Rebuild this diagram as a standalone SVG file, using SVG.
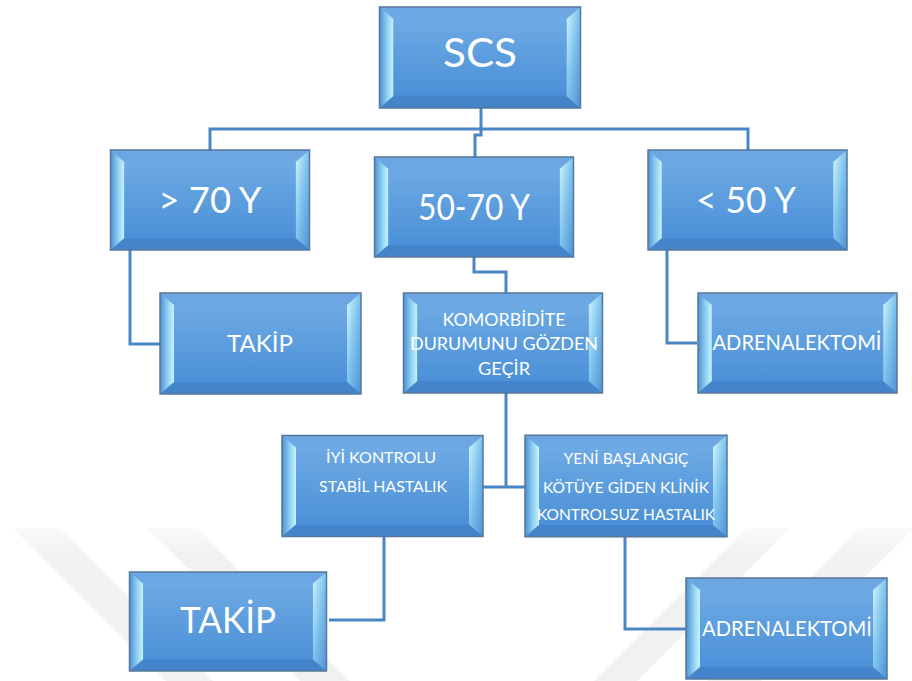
<svg xmlns="http://www.w3.org/2000/svg" xmlns:xlink="http://www.w3.org/1999/xlink" width="912" height="681" viewBox="0 0 912 681">
<style>
.t{font-family:Lato,"Open Sans","Liberation Sans",sans-serif;fill:#ffffff;text-anchor:middle}
.c{fill:none;stroke:#4a86c5;stroke-width:3}
</style>
<defs>
<linearGradient id="face" x1="0" y1="0" x2="0" y2="1">
<stop offset="0" stop-color="#6eaae4"/>
<stop offset="1" stop-color="#4b90d7"/>
</linearGradient>
<linearGradient id="lb" x1="0" y1="0" x2="1" y2="0">
<stop offset="0" stop-color="#4f8fd2"/>
<stop offset="0.55" stop-color="#8fd0f2"/>
<stop offset="1" stop-color="#c8f4ff"/>
</linearGradient>
<linearGradient id="rb" x1="0" y1="0" x2="1" y2="1">
<stop offset="0" stop-color="#d2f8ff"/>
<stop offset="0.5" stop-color="#7cc0ec"/>
<stop offset="1" stop-color="#4f90d4"/>
</linearGradient>
<linearGradient id="wmg" x1="0" y1="0" x2="0" y2="1">
<stop offset="0" stop-color="#fafafa"/>
<stop offset="0.15" stop-color="#f2f2f2"/>
<stop offset="1" stop-color="#f2f2f2"/>
</linearGradient>
<symbol id="box" viewBox="0 0 201 101" overflow="visible">
<rect x="0" y="0" width="201" height="101" fill="url(#face)"/>
<polygon points="0,0 201,0 187,12 14,12" fill="#6ca7e3"/>
<polygon points="0,101 201,101 187,89 14,89" fill="#4484cb"/>
<polygon points="0,0 14,12 14,89 0,101" fill="url(#lb)"/>
<polygon points="201,0 187,12 187,89 201,101" fill="url(#rb)"/>
<rect x="14" y="12" width="173" height="77" fill="url(#face)"/>
<rect x="0" y="0" width="201" height="101" fill="none" stroke="#55779c" stroke-width="1.5"/>
</symbol>
</defs>
<rect x="0" y="0" width="912" height="681" fill="#ffffff"/>
<g id="watermark">
<polygon fill="url(#wmg)" points="13,528 60,528 213,681 166,681"/>
<polygon fill="url(#wmg)" points="147,528 197,528 350,681 300,681"/>
<polygon fill="url(#wmg)" points="747,528 790,528 637,681 594,681"/>
<polygon fill="url(#wmg)" points="860,528 912,528 912,530 761,681 707,681"/>
</g>
<g id="connectors">
<path class="c" d="M481,108 V135 H475 V157"/>
<path class="c" d="M210,150 V129 H748 V150"/>
<path class="c" d="M130,250 V344 H160"/>
<path class="c" d="M667,250 V343 H697"/>
<path class="c" d="M474,257 V272 H506 V293"/>
<path class="c" d="M506,393 V487"/>
<path class="c" d="M483,487 H525"/>
<path class="c" d="M384,537 V620 H329"/>
<path class="c" d="M625,537 V629 H686"/>
</g>
<g id="scs">
<use xlink:href="#box" x="379" y="7" width="202" height="101"/>
<text class="t" x="480" y="67" font-size="40" textLength="74" lengthAdjust="spacingAndGlyphs">SCS</text>
</g>
<g id="gt70">
<use xlink:href="#box" x="109" y="150" width="202" height="100"/>
<text class="t" x="210" y="213" font-size="36" textLength="103" lengthAdjust="spacingAndGlyphs">&gt; 70 Y</text>
</g>
<g id="m5070">
<use xlink:href="#box" x="373" y="157" width="202" height="100"/>
<text class="t" x="474" y="220" font-size="36" textLength="112" lengthAdjust="spacingAndGlyphs">50-70 Y</text>
</g>
<g id="lt50">
<use xlink:href="#box" x="647" y="150" width="201" height="100"/>
<text class="t" x="746" y="213" font-size="36" textLength="100" lengthAdjust="spacingAndGlyphs">&lt; 50 Y</text>
</g>
<g id="takip1">
<use xlink:href="#box" x="160" y="293" width="201" height="101"/>
<text class="t" x="260" y="352" font-size="24" textLength="66" lengthAdjust="spacingAndGlyphs">TAKİP</text>
</g>
<g id="komorbidite">
<use xlink:href="#box" x="402" y="293" width="202" height="100"/>
<text class="t" x="504" y="326" font-size="18" textLength="123" lengthAdjust="spacingAndGlyphs">KOMORBİDİTE</text>
<text class="t" x="504" y="350" font-size="18" textLength="188" lengthAdjust="spacingAndGlyphs">DURUMUNU GÖZDEN</text>
<text class="t" x="504" y="375" font-size="18" textLength="52" lengthAdjust="spacingAndGlyphs">GEÇİR</text>
</g>
<g id="adrenal1">
<use xlink:href="#box" x="697" y="293" width="201" height="100"/>
<text class="t" x="797" y="350" font-size="21" textLength="169" lengthAdjust="spacingAndGlyphs">ADRENALEKTOMİ</text>
</g>
<g id="iyi">
<use xlink:href="#box" x="282" y="435" width="201" height="102"/>
<text class="t" x="381" y="463" font-size="16" textLength="110" lengthAdjust="spacingAndGlyphs">İYİ KONTROLU</text>
<text class="t" x="383" y="492" font-size="16" textLength="128" lengthAdjust="spacingAndGlyphs">STABİL HASTALIK</text>
</g>
<g id="yeni">
<use xlink:href="#box" x="525" y="435" width="202" height="102"/>
<text class="t" x="626" y="464" font-size="16" textLength="125" lengthAdjust="spacingAndGlyphs">YENİ BAŞLANGIÇ</text>
<text class="t" x="626" y="493" font-size="16" textLength="166" lengthAdjust="spacingAndGlyphs">KÖTÜYE GİDEN KLİNİK</text>
<text class="t" x="626" y="520" font-size="16" textLength="178" lengthAdjust="spacingAndGlyphs">KONTROLSUZ HASTALIK</text>
</g>
<g id="takip2">
<use xlink:href="#box" x="127" y="572" width="202" height="99"/>
<text class="t" x="228" y="633" font-size="37" textLength="96" lengthAdjust="spacingAndGlyphs">TAKİP</text>
</g>
<g id="adrenal2">
<use xlink:href="#box" x="686" y="578" width="201" height="101"/>
<text class="t" x="787" y="636" font-size="21" textLength="170" lengthAdjust="spacingAndGlyphs">ADRENALEKTOMİ</text>
</g>
</svg>
